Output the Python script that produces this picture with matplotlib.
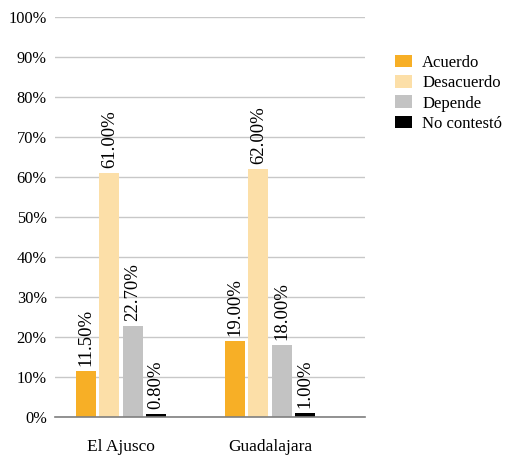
import matplotlib
matplotlib.use("Agg")
import matplotlib.pyplot as plt
import numpy as np

plt.rcParams['font.family'] = ['Liberation Serif', 'DejaVu Serif']

categories = ["El Ajusco", "Guadalajara"]
series_names = ["Acuerdo", "Desacuerdo", "Depende", "No contestó"]
acuerdo = [11.5, 19.0]
desacuerdo = [61.0, 62.0]
depende = [22.7, 18.0]
no_contesto = [0.8, 1.0]
y_ticks = [0, 10, 20, 30, 40, 50, 60, 70, 80, 90, 100]

series = [acuerdo, desacuerdo, depende, no_contesto]
colors = ["#F7AF26", "#FCDFA8", "#C3C3C3", "#000000"]

fig = plt.figure(figsize=(5.06, 4.55), dpi=100)
ax = fig.add_axes([55 / 506, 38 / 455, 310 / 506, 400 / 455])

x = np.arange(len(categories))
step = 0.157
width = 0.134
for i, (name, vals, c) in enumerate(zip(series_names, series, colors)):
    pos = x + (i - 1.5) * step
    bars = ax.bar(pos, vals, width=width, color=c, label=name, zorder=3)
    for b, v in zip(bars, vals):
        ax.text(b.get_x() + b.get_width() / 2, v + 1.2, f"{v:.2f}%",
                rotation=90, ha="center", va="bottom", fontsize=13.5, zorder=4)

ax.set_ylim(0, 100)
ax.set_xlim(-0.443, 1.638)
ax.set_yticks(y_ticks)
ax.set_yticklabels([f"{t}%" for t in y_ticks], fontsize=11.8)
ax.set_xticks(x)
ax.set_xticklabels(categories, fontsize=12.5)
ax.tick_params(axis="y", length=0, pad=6)
ax.tick_params(axis="x", length=0, pad=16)
ax.yaxis.grid(True, color="#C8C8C8", linewidth=1, zorder=0)
for s in ["top", "right", "left"]:
    ax.spines[s].set_visible(False)
ax.spines["bottom"].set_color("#7F7F7F")
ax.spines["bottom"].set_linewidth(1.2)
ax.spines["bottom"].set_zorder(5)

leg = fig.legend(loc="upper left", bbox_to_anchor=(388 / 506, 1 - 48 / 455),
                 frameon=False, fontsize=12, handlelength=1.05, handleheight=0.8,
                 handletextpad=0.6, labelspacing=0.25, borderaxespad=0)

fig.savefig("out.png", dpi=100)
